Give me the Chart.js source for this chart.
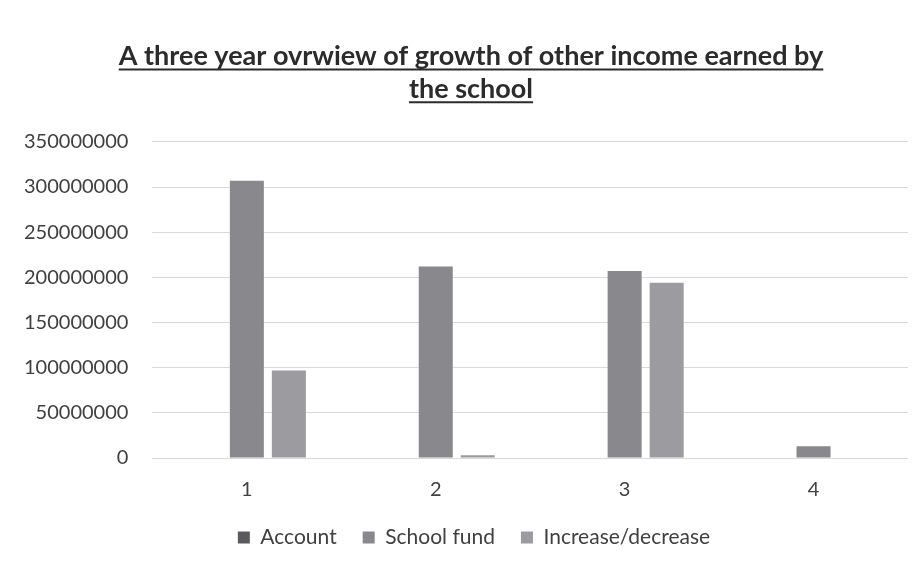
<!DOCTYPE html>
<html>
<head>
<meta charset="utf-8">
<script src="https://cdn.jsdelivr.net/npm/chart.js@4.4.1/dist/chart.umd.min.js"></script>
<style>
  html, body { margin: 0; padding: 0; background: #fff; }
  #wrap { width: 924px; height: 575px; position: relative; }
</style>
</head>
<body>
<div id="wrap"><canvas id="growth"></canvas></div>
<script>
// data
const categories = ['1', '2', '3', '4'];
const accountValues = [0, 0, 0, 0];
const schoolFundValues = [307000000, 212000000, 207000000, 13000000];
const increaseValues = [97000000, 3000000, 194000000, 0];
const titleLines = ['A three year ovrwiew of growth of other income earned by', 'the school'];
const yMax = 350000000;
const yStep = 50000000;

const fontFamily = 'Lato, "Open Sans", sans-serif';

// nudge title + legend to where they sit in the original, and underline the title
const tweakBoxes = {
    id: 'tweakBoxes',
    afterLayout(chart) {
        const block = chart.titleBlock;
        if (block) {
            block.left += 17;
            block.right += 17;
        }
        const legend = chart.legend;
        if (legend) {
            legend.top -= 21;
            legend.bottom -= 21;
            legend.left += 20;
            legend.right += 20;
        }
    },
    afterDraw(chart) {
        const opts = chart.options.plugins.title;
        const block = chart.titleBlock;
        if (!block) return;
        const ctx = chart.ctx;
        const size = opts.font.size;
        const lineH = size * opts.font.lineHeight;
        ctx.save();
        ctx.font = `bold ${size}px ${fontFamily}`;
        ctx.strokeStyle = opts.color;
        ctx.lineWidth = 2;
        const cx = (block.left + block.right) / 2;
        titleLines.forEach((line, i) => {
            const w = ctx.measureText(line).width;
            const y = block.top + opts.padding.top + lineH * i + lineH / 2 + size * 0.48;
            ctx.beginPath();
            ctx.moveTo(cx - w / 2, y);
            ctx.lineTo(cx + w / 2, y);
            ctx.stroke();
        });
        ctx.restore();
    }
};

new Chart('growth', {
    type: 'bar',
    data: {
        labels: categories,
        datasets: [{
            label: 'Account',
            data: accountValues,
            backgroundColor: '#5a5a5e'
        }, {
            label: 'School fund',
            data: schoolFundValues,
            backgroundColor: '#88888d'
        }, {
            label: 'Increase/decrease',
            data: increaseValues,
            backgroundColor: '#9b9ba0'
        }]
    },
    options: {
        responsive: true,
        maintainAspectRatio: false,
        animation: false,
        categoryPercentage: 0.667,
        barPercentage: 0.81,
        layout: { padding: { left: 0, right: 16, top: 0, bottom: 0 } },
        scales: {
            x: {
                grid: { display: false, drawTicks: false },
                border: { display: false },
                ticks: { color: '#404040', padding: 20, font: { family: fontFamily, size: 20 } }
            },
            y: {
                min: 0,
                max: yMax,
                grid: { color: '#d9d9d9', drawTicks: false },
                border: { display: false },
                ticks: {
                    stepSize: yStep,
                    color: '#404040',
                    padding: 24,
                    font: { family: fontFamily, size: 20 },
                    callback: v => String(v)
                }
            }
        },
        plugins: {
            title: {
                display: true,
                text: titleLines,
                color: '#2b2b2b',
                font: { family: fontFamily, size: 27, weight: 'bold', lineHeight: 1.22 },
                padding: { top: 40, bottom: 36 }
            },
            legend: {
                position: 'bottom',
                maxHeight: 53,
                labels: {
                    color: '#404040',
                    boxWidth: 12,
                    boxHeight: 12,
                    padding: 26,
                    font: { family: fontFamily, size: 21 }
                }
            },
            tooltip: { enabled: false }
        }
    },
    plugins: [tweakBoxes]
});
</script>
</body>
</html>
